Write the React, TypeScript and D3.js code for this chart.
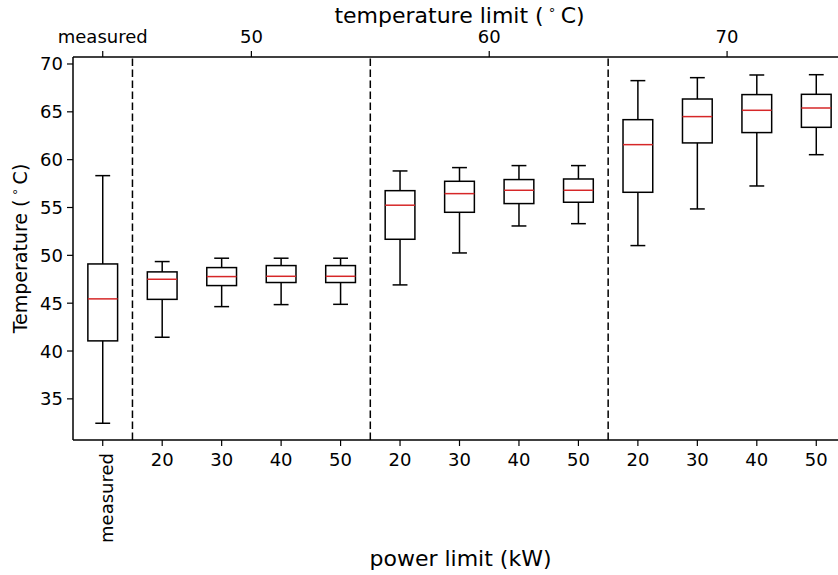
import React from 'react';
import * as d3 from 'd3';

// box stats
const bottomLabels = ['measured', '20', '30', '40', '50', '20', '30', '40', '50', '20', '30', '40', '50'];
const lows = [32.45, 41.44, 44.64, 44.85, 44.88, 46.91, 50.25, 53.07, 53.31, 51.02, 54.85, 57.25, 60.52];
const q1s = [41.06, 45.4, 46.84, 47.16, 47.16, 51.68, 54.5, 55.41, 55.55, 56.59, 61.75, 62.83, 63.38];
const medians = [45.45, 47.5, 47.78, 47.81, 47.81, 55.24, 56.45, 56.8, 56.8, 61.57, 64.5, 65.16, 65.4];
const q3s = [49.1, 48.27, 48.72, 48.93, 48.93, 56.76, 57.74, 57.92, 57.98, 64.18, 66.34, 66.8, 66.83];
const highs = [58.33, 49.35, 49.7, 49.7, 49.7, 58.82, 59.17, 59.38, 59.38, 68.26, 68.57, 68.85, 68.88];

const topTickPos = [1, 3.5, 7.5, 11.5];
const topTickLabels = ['measured', '50', '60', '70'];
const separators = [1.5, 5.5, 9.5];
const yTicks = [35, 40, 45, 50, 55, 60, 65, 70];

const W = 838;
const H = 575;
const margin = { top: 57, right: -8, bottom: 135, left: 73 };
const font = 'DejaVu Sans, sans-serif';

const App = () => {
  const x = d3.scaleLinear().domain([0.5, 13.5]).range([margin.left, W - margin.right]);
  const y = d3.scaleLinear().domain([30.7, 70.73]).range([H - margin.bottom, margin.top]);
  const bw = x(1.5) - x(1);
  const cap = bw / 2;
  const x0 = margin.left;
  const x1 = W - margin.right;
  const y0 = H - margin.bottom;
  const y1 = margin.top;
  const midX = (x0 + x1) / 2;

  return (
    <svg width={W} height={H} style={{ position: 'absolute', left: 0, top: 0, background: '#fff' }} fontFamily={font}>
      <rect width={W} height={H} fill="#fff" />
      {separators.map((s) => (
        <line key={s} x1={x(s)} x2={x(s)} y1={y0} y2={y1} stroke="#000" strokeWidth={1.5} strokeDasharray="7.5,3.5" />
      ))}
      {lows.map((lo, i) => {
        const cx = x(i + 1);
        return (
          <g key={i} stroke="#000" strokeWidth={1.5} fill="none">
            <line x1={cx} x2={cx} y1={y(lo)} y2={y(q1s[i])} />
            <line x1={cx} x2={cx} y1={y(q3s[i])} y2={y(highs[i])} />
            <line x1={cx - cap / 2} x2={cx + cap / 2} y1={y(lo)} y2={y(lo)} />
            <line x1={cx - cap / 2} x2={cx + cap / 2} y1={y(highs[i])} y2={y(highs[i])} />
            <rect x={cx - bw / 2} y={y(q3s[i])} width={bw} height={y(q1s[i]) - y(q3s[i])} />
            <line x1={cx - bw / 2} x2={cx + bw / 2} y1={y(medians[i])} y2={y(medians[i])} stroke="#d62728" strokeWidth={1.5} />
          </g>
        );
      })}
      {/* spines */}
      <g stroke="#000" strokeWidth={1.5}>
        <line x1={x0} x2={x0} y1={y0} y2={y1} />
        <line x1={x0} x2={x1} y1={y0} y2={y0} />
        <line x1={x0} x2={x1} y1={y1} y2={y1} />
      </g>
      {/* y axis */}
      {yTicks.map((t) => (
        <g key={t} transform={`translate(${x0},${y(t)})`}>
          <line x1={-6} x2={0} stroke="#000" strokeWidth={1.2} />
          <text x={-10} dy="0.36em" textAnchor="end" fontSize={18}>{t}</text>
        </g>
      ))}
      <text transform={`translate(27,${(y0 + y1) / 2}) rotate(-90)`} textAnchor="middle" fontSize={19}>
        Temperature ({'\u2009'}<tspan dy={-8} fontSize={12}>∘</tspan><tspan dy={8}>{'\u2009'}C)</tspan>
      </text>
      {/* bottom axis */}
      {bottomLabels.map((lab, i) => (
        <g key={i} transform={`translate(${x(i + 1)},${y0})`}>
          <line y1={0} y2={6} stroke="#000" strokeWidth={1.2} />
          {i === 0 ? (
            <text transform="translate(0,13) rotate(-90)" y={10} textAnchor="end" fontSize={18}>{lab}</text>
          ) : (
            <text y={26} textAnchor="middle" fontSize={18}>{lab}</text>
          )}
        </g>
      ))}
      <text x={midX + 1} y={566} textAnchor="middle" fontSize={22}>power limit (kW)</text>
      {/* top axis */}
      {topTickPos.map((p, i) => (
        <g key={p} transform={`translate(${x(p)},${y1})`}>
          <line y1={0} y2={-6} stroke="#000" strokeWidth={1.2} />
          <text y={-14} textAnchor="middle" fontSize={18}>{topTickLabels[i]}</text>
        </g>
      ))}
      <text x={midX} y={23} textAnchor="middle" fontSize={22}>
        temperature limit ({'\u2009'}<tspan dy={-9} fontSize={13}>∘</tspan><tspan dy={9}>{'\u2009'}C)</tspan>
      </text>
    </svg>
  );
};

export default App;
